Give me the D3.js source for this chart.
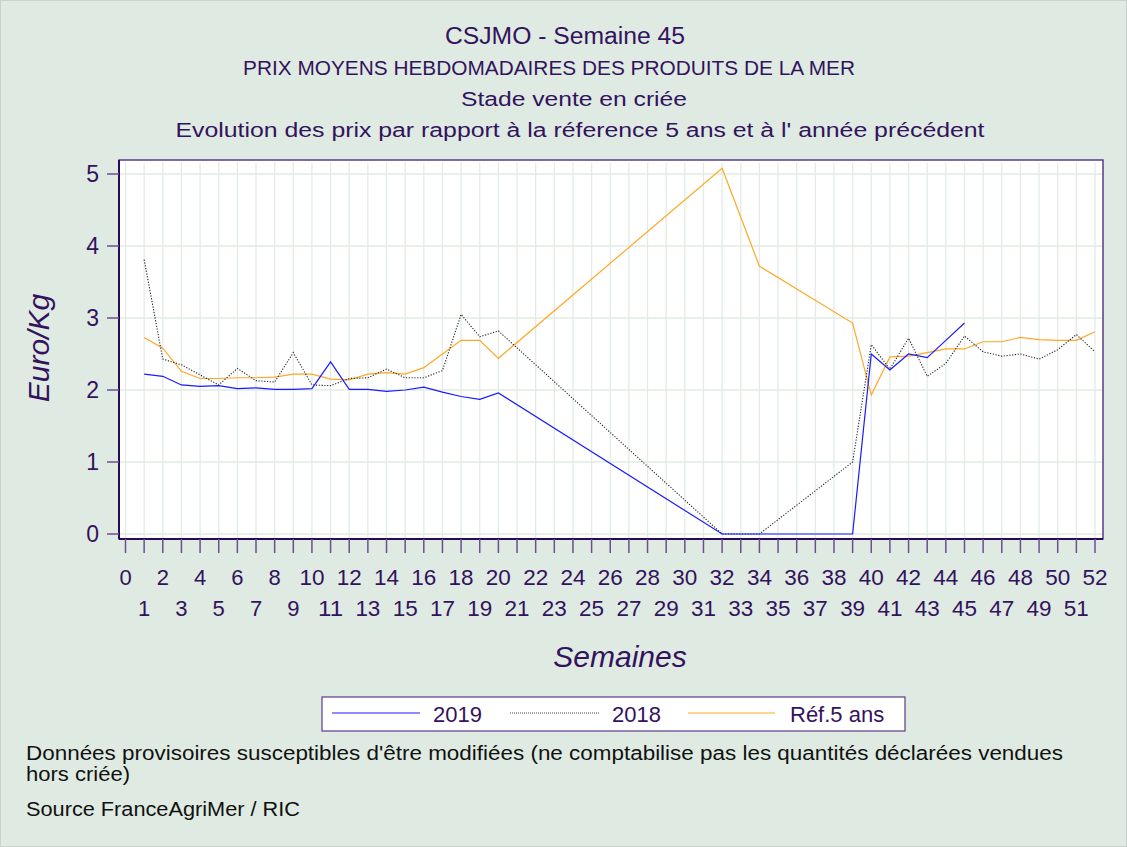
<!DOCTYPE html>
<html><head><meta charset="utf-8">
<script src="https://cdn.jsdelivr.net/npm/d3@7"></script>
<style>
html,body{margin:0;padding:0;background:#dfebe2;}
svg{display:block;}
</style></head>
<body>
<svg id="chart" width="1127" height="847"></svg>
<script>
// ---- data ----
const titles = ["CSJMO - Semaine 45",
  "PRIX MOYENS HEBDOMADAIRES DES PRODUITS DE LA MER",
  "Stade vente en criée",
  "Evolution des prix par rapport à la réference 5 ans et à l' année précédent"];
const yTicks = [0,1,2,3,4,5];
const weekTicks = d3.range(0,53);
const weeks2019 = [1,2,3,4,5,6,7,8,9,10,11,12,13,14,15,16,17,18,19,20,32,33,34,39,40,41,42,43,44,45];
const values2019 = [2.22,2.19,2.07,2.05,2.06,2.02,2.03,2.01,2.01,2.02,2.39,2.01,2.01,1.98,2.00,2.04,1.97,1.91,1.87,1.96,0,0,0,0,2.50,2.28,2.50,2.45,2.69,2.93];
const weeks2018 = [1,2,3,4,5,6,7,8,9,10,11,12,13,14,15,16,17,18,19,20,32,33,34,39,40,41,42,43,44,45,46,47,48,49,50,51,52];
const values2018 = [3.81,2.43,2.35,2.21,2.07,2.30,2.13,2.11,2.52,2.07,2.06,2.16,2.17,2.29,2.17,2.17,2.27,3.05,2.74,2.82,0,0,0,1.00,2.63,2.29,2.72,2.19,2.37,2.75,2.53,2.47,2.50,2.43,2.56,2.77,2.53];
const weeksRef = [1,2,3,4,5,6,7,8,9,10,11,12,13,14,15,16,17,18,19,20,32,34,39,40,41,42,43,44,45,46,47,48,49,50,51,52];
const valuesRef = [2.73,2.58,2.26,2.16,2.16,2.17,2.17,2.18,2.22,2.22,2.15,2.14,2.22,2.24,2.22,2.31,2.50,2.69,2.69,2.44,5.08,3.72,2.93,1.93,2.46,2.47,2.52,2.57,2.57,2.67,2.67,2.73,2.70,2.69,2.69,2.81];
const seriesNames = ["2019","2018","Réf.5 ans"];
const footer = ["Données provisoires susceptibles d'être modifiées (ne comptabilise pas les quantités déclarées vendues",
  "hors criée)", "Source FranceAgriMer / RIC"];

// ---- layout ----
const svg = d3.select("#chart");
const purple = "#33125e";
const plot = {x0:119, x1:1103, y0:160, y1:539};
const x = d3.scaleLinear().domain([0,52]).range([125.5,1095]);
const y = d3.scaleLinear().domain([0,5]).range([534,174]);
const FONT = "'Liberation Sans', Arial, sans-serif";

svg.append("rect").attr("x",0.5).attr("y",0.5).attr("width",1126).attr("height",846).attr("fill","#dfebe2").attr("stroke","#c9d3ce");

// titles
const titleSpec = [
  {x:565, y:44, size:23, len:240},
  {x:549, y:75, size:20, len:612},
  {x:574, y:106, size:20, len:226},
  {x:580, y:137, size:20, len:809}
];
titles.forEach((t,i)=>{
  const s = titleSpec[i];
  svg.append("text").attr("x",s.x).attr("y",s.y).attr("text-anchor","middle")
    .attr("font-family",FONT).attr("font-size",s.size).attr("fill",purple)
    .attr("textLength",s.len).attr("lengthAdjust","spacingAndGlyphs").text(t);
});

// plot background
svg.append("rect").attr("x",plot.x0).attr("y",plot.y0).attr("width",plot.x1-plot.x0).attr("height",plot.y1-plot.y0).attr("fill","#ffffff");

// grid
const grid = svg.append("g").attr("stroke","#e1ebe3").attr("stroke-width",1.3);
weekTicks.forEach(w=>{
  grid.append("line").attr("x1",x(w)).attr("x2",x(w)).attr("y1",plot.y0+3).attr("y2",plot.y1).attr("stroke","#e2ece5");
});
yTicks.forEach(v=>{
  grid.append("line").attr("x1",plot.x0).attr("x2",plot.x1).attr("y1",y(v)).attr("y2",y(v));
});

// lines
const line = d3.line().x(d=>x(d[0])).y(d=>y(d[1]));
const pairs = (ws,vs)=>ws.map((w,i)=>[w,vs[i]]);
svg.append("path").datum(pairs(weeksRef,valuesRef)).attr("d",line).attr("fill","none").attr("stroke","#ffa726").attr("stroke-width",1.2);
svg.append("path").datum(pairs(weeks2018,values2018)).attr("d",line).attr("fill","none").attr("stroke","#222222").attr("stroke-width",1.1).attr("stroke-dasharray","1.2,1.6");
svg.append("path").datum(pairs(weeks2019,values2019)).attr("d",line).attr("fill","none").attr("stroke","#1a1aff").attr("stroke-width",1.2);

// plot border
svg.append("rect").attr("x",plot.x0).attr("y",plot.y0).attr("width",plot.x1-plot.x0).attr("height",plot.y1-plot.y0)
  .attr("fill","none").attr("stroke","#5a3a8a").attr("stroke-width",1.5);
svg.append("line").attr("x1",plot.x0).attr("x2",plot.x0).attr("y1",plot.y0).attr("y2",plot.y1).attr("stroke","#2a0a55").attr("stroke-width",2);
svg.append("line").attr("x1",plot.x0).attr("x2",plot.x1).attr("y1",plot.y1).attr("y2",plot.y1).attr("stroke","#2a0a55").attr("stroke-width",2);

// y axis
const yAxis = svg.append("g");
yTicks.forEach(v=>{
  yAxis.append("line").attr("x1",107).attr("x2",plot.x0).attr("y1",y(v)).attr("y2",y(v)).attr("stroke","#6a4f93").attr("stroke-width",1.5);
  yAxis.append("text").attr("x",99).attr("y",y(v)+8).attr("text-anchor","end")
    .attr("font-family",FONT).attr("font-size",23).attr("fill",purple).text(v);
});
svg.append("text").attr("transform","translate(49,348) rotate(-90)").attr("text-anchor","middle")
  .attr("font-family",FONT).attr("font-size",30).attr("font-style","italic").attr("fill",purple).text("Euro/Kg");

// x axis
const xAxis = svg.append("g");
weekTicks.forEach(w=>{
  xAxis.append("line").attr("x1",x(w)).attr("x2",x(w)).attr("y1",plot.y1).attr("y2",553).attr("stroke","#6a4f93").attr("stroke-width",1.5);
  xAxis.append("text").attr("x",x(w)).attr("y", w%2===0 ? 585 : 616).attr("text-anchor","middle")
    .attr("font-family",FONT).attr("font-size",22).attr("fill",purple)
    .attr("textLength", w>=10 ? 25 : null).attr("lengthAdjust","spacingAndGlyphs").text(w);
});
svg.append("text").attr("x",620).attr("y",667).attr("text-anchor","middle")
  .attr("font-family",FONT).attr("font-size",30).attr("font-style","italic").attr("fill",purple).text("Semaines");

// legend
const lg = svg.append("g");
lg.append("rect").attr("x",322).attr("y",697).attr("width",583).attr("height",34).attr("fill","#ffffff").attr("stroke","#5a3a8a").attr("stroke-width",1.2);
const legendItems = [
  {x1:332,x2:420,tx:433,color:"#1a1aff",dash:null},
  {x1:510,x2:600,tx:612,color:"#444444",dash:"1,1"},
  {x1:688,x2:775,tx:790,color:"#ffa726",dash:null}
];
legendItems.forEach((it,i)=>{
  lg.append("line").attr("x1",it.x1).attr("x2",it.x2).attr("y1",713).attr("y2",713)
    .attr("stroke",it.color).attr("stroke-width",1.2).attr("stroke-dasharray",it.dash);
  lg.append("text").attr("x",it.tx).attr("y",722).attr("font-family",FONT).attr("font-size",22).attr("fill",purple).text(seriesNames[i]);
});

// footer
const fs = 19.5;
svg.append("text").attr("x",26).attr("y",760).attr("font-family",FONT).attr("font-size",fs).attr("fill","#111")
  .attr("textLength",1037).attr("lengthAdjust","spacingAndGlyphs").text(footer[0]);
svg.append("text").attr("x",26).attr("y",781).attr("font-family",FONT).attr("font-size",fs).attr("fill","#111")
  .attr("textLength",104).attr("lengthAdjust","spacingAndGlyphs").text(footer[1]);
svg.append("text").attr("x",26).attr("y",816).attr("font-family",FONT).attr("font-size",fs).attr("fill","#111")
  .attr("textLength",274).attr("lengthAdjust","spacingAndGlyphs").text(footer[2]);
</script>
</body></html>
